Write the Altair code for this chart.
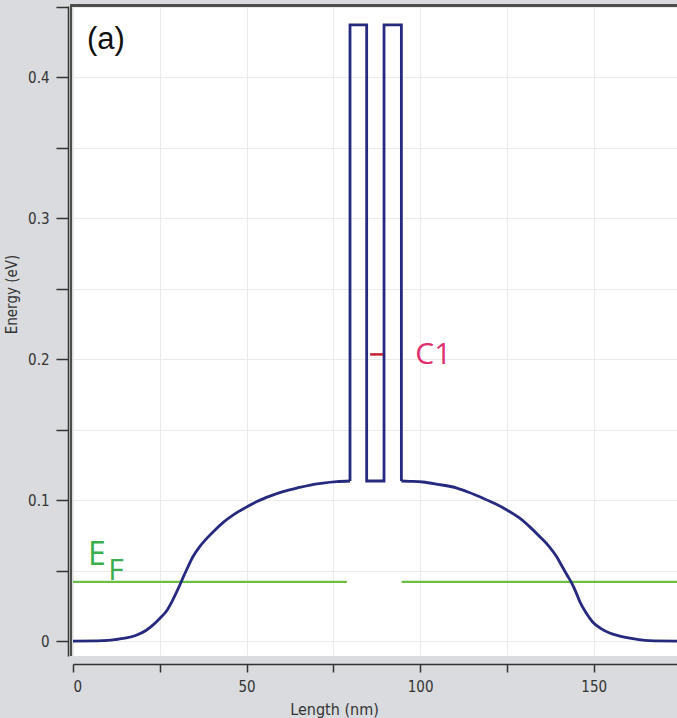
import altair as alt
import pandas as pd

# Conduction-band profile across the double-barrier structure
pos_nm = [0, 8.6, 12, 15, 18.4, 21, 23, 25, 27, 28.5, 29.9, 31, 31.7, 33, 34.5,
          36.5, 38.6, 41, 43.2, 46.5, 50, 53, 56.7, 60.5, 64.5, 68, 72, 76,
          79.8, 79.8, 84.6, 84.6, 89.6, 89.6, 94.6, 94.6,
          97, 100.8, 105, 110.6, 114, 118, 121.5, 125, 128.5, 131.6, 134.5,
          137.3, 139.3, 141, 142.4, 143.7, 145, 146, 147.8, 149.7, 152, 154.6,
          157.5, 160.4, 163, 166, 174]
energy_ev = [0.0, 0.0003, 0.001, 0.002, 0.0043, 0.0075, 0.0113, 0.016, 0.0215,
             0.028, 0.035, 0.041, 0.045, 0.052, 0.0596, 0.067, 0.073, 0.079,
             0.084, 0.090, 0.095, 0.099, 0.1028, 0.106, 0.1085, 0.1105, 0.112,
             0.113, 0.1135, 0.437, 0.437, 0.1135, 0.1135, 0.437, 0.437, 0.1135,
             0.1133, 0.1128, 0.1112, 0.1085, 0.1055, 0.1014, 0.0975, 0.093,
             0.0875, 0.081, 0.074, 0.0667, 0.060, 0.0525, 0.0465, 0.041, 0.034,
             0.028, 0.020, 0.0135, 0.009, 0.0057, 0.0035, 0.002, 0.001, 0.0003,
             0.0]

# Fermi level, drawn on both leads
fermi_ev = 0.042
fermi_x_start = [0, 94.7]
fermi_x_end = [78.9, 174]

# Resonant state C1 inside the well
c1_ev = 0.2033
c1_x_start = 85.6
c1_x_end = 89.3

x_ticks = [0, 25, 50, 75, 100, 125, 150, 175]
y_ticks = [0, 0.05, 0.1, 0.15, 0.2, 0.25, 0.3, 0.35, 0.4, 0.45]

X_DOMAIN = [0, 174]
Y_DOMAIN = [-0.0106, 0.4504]
W, H = 604, 650

AXIS_FONT = "DejaVu Sans Condensed, Liberation Sans"
INK = "#333333"
BAND_COLOR = "#262a7e"

x_scale = alt.Scale(domain=X_DOMAIN, nice=False, zero=False)
y_scale = alt.Scale(domain=Y_DOMAIN, nice=False, zero=False)

x_axis = alt.Axis(
    values=x_ticks,
    labelExpr="datum.value % 50 === 0 ? datum.label : ''",
    offset=8, tickSize=8, labelPadding=7,
    domainColor=INK, tickColor=INK, domainWidth=1.5, tickWidth=1.5,
    labelColor=INK, labelFont=AXIS_FONT, labelFontSize=15,
    grid=True, gridColor="#ebebeb", gridWidth=1,
    title="Length (nm)", titleFont=AXIS_FONT, titleFontSize=16,
    titleFontWeight="normal", titleColor=INK,
    titleX=261, titleY=45, titleAlign="center", titleBaseline="middle",
)
y_axis = alt.Axis(
    values=y_ticks,
    labelExpr="round(datum.value * 100) % 10 === 0 ? format(datum.value, '.1~f') : ''",
    offset=5, tickSize=12, labelPadding=7,
    domainColor=INK, tickColor=INK, domainWidth=1.5, tickWidth=1.5,
    labelColor=INK, labelFont=AXIS_FONT, labelFontSize=15,
    grid=True, gridColor="#ebebeb", gridWidth=1,
    title="Energy (eV)", titleFont=AXIS_FONT, titleFontSize=15,
    titleFontWeight="normal", titleColor=INK,
    titleX=-57, titleY=288, titleAlign="center", titleBaseline="middle",
)


def xy():
    # every layer carries the same scales and axes so they merge cleanly
    return dict(
        x=alt.X("x:Q", scale=x_scale, axis=x_axis),
        y=alt.Y("e:Q", scale=y_scale, axis=y_axis),
    )


# split the profile: smooth flanks on each side, square barriers in the middle
barrier_lo = pos_nm.index(79.8)
barrier_hi = len(pos_nm) - 1 - pos_nm[::-1].index(94.6)
part = (["left"] * (barrier_lo + 1)
        + ["core"] * (barrier_hi - barrier_lo - 1)
        + ["right"] * (len(pos_nm) - barrier_hi))
profile = pd.DataFrame({"x": pos_nm, "e": energy_ev, "order": list(range(len(pos_nm))), "part": part})
core = pd.DataFrame({"x": pos_nm[barrier_lo:barrier_hi + 1],
                     "e": energy_ev[barrier_lo:barrier_hi + 1],
                     "order": list(range(barrier_hi - barrier_lo + 1))})

flanks = alt.Chart(profile).transform_filter(
    "datum.part !== 'core'"
).mark_line(color=BAND_COLOR, strokeWidth=2.8, interpolate="monotone", clip=True).encode(
    detail="part:N", order="order:Q", **xy()
)
barriers = alt.Chart(core).mark_line(
    color=BAND_COLOR, strokeWidth=2.8, clip=True, strokeJoin="miter"
).encode(order="order:Q", **xy())

fermi = alt.Chart(pd.DataFrame({"x": fermi_x_start, "x2": fermi_x_end, "e": [fermi_ev, fermi_ev]})).mark_rule(
    color="#6cbf45", strokeWidth=2.2, clip=True
).encode(x2="x2:Q", **xy())

c1_mark = alt.Chart(pd.DataFrame({"x": [c1_x_start], "x2": [c1_x_end], "e": [c1_ev]})).mark_rule(
    color="#c8202e", strokeWidth=2.5
).encode(x2="x2:Q", **xy())


def label(text, x, e, color, size, font):
    return alt.Chart(pd.DataFrame({"x": [x], "e": [e], "t": [text]})).mark_text(
        color=color, fontSize=size, font=font, align="center", baseline="middle"
    ).encode(text="t:N", **xy())


panel = label("(a)", 9.5, 0.426, "#111111", 31, "Liberation Sans")
ef_e = label("E", 6.9, 0.0613, "#3aae4a", 32, "Open Sans")
ef_f = label("F", 12.4, 0.0500, "#3aae4a", 30, "Open Sans")
c1_text = label("C1", 103.8, 0.2028, "#e0306e", 30, "Open Sans")

frame_src = pd.DataFrame({"k": [0]})
frame_top = alt.Chart(frame_src).mark_rule(color="#4d4d4d", strokeWidth=3).encode(
    x=alt.value(-3), x2=alt.value(W), y=alt.value(-0.5)
)
frame_left = alt.Chart(frame_src).mark_rule(color="#4d4d4d", strokeWidth=2).encode(
    x=alt.value(-2), y=alt.value(-2), y2=alt.value(H)
)

chart = alt.layer(
    fermi, flanks, barriers, c1_mark, panel, ef_e, ef_f, c1_text, frame_top, frame_left
).properties(
    width=W, height=H,
    padding={"left": 73, "top": 6, "right": 0, "bottom": 62},
    autosize=alt.AutoSizeParams(type="none"),
    background="#d9dbde",
).configure_view(
    fill="white", stroke=None
)

chart.save("out.html", embed_options={"renderer": "svg", "actions": False})
